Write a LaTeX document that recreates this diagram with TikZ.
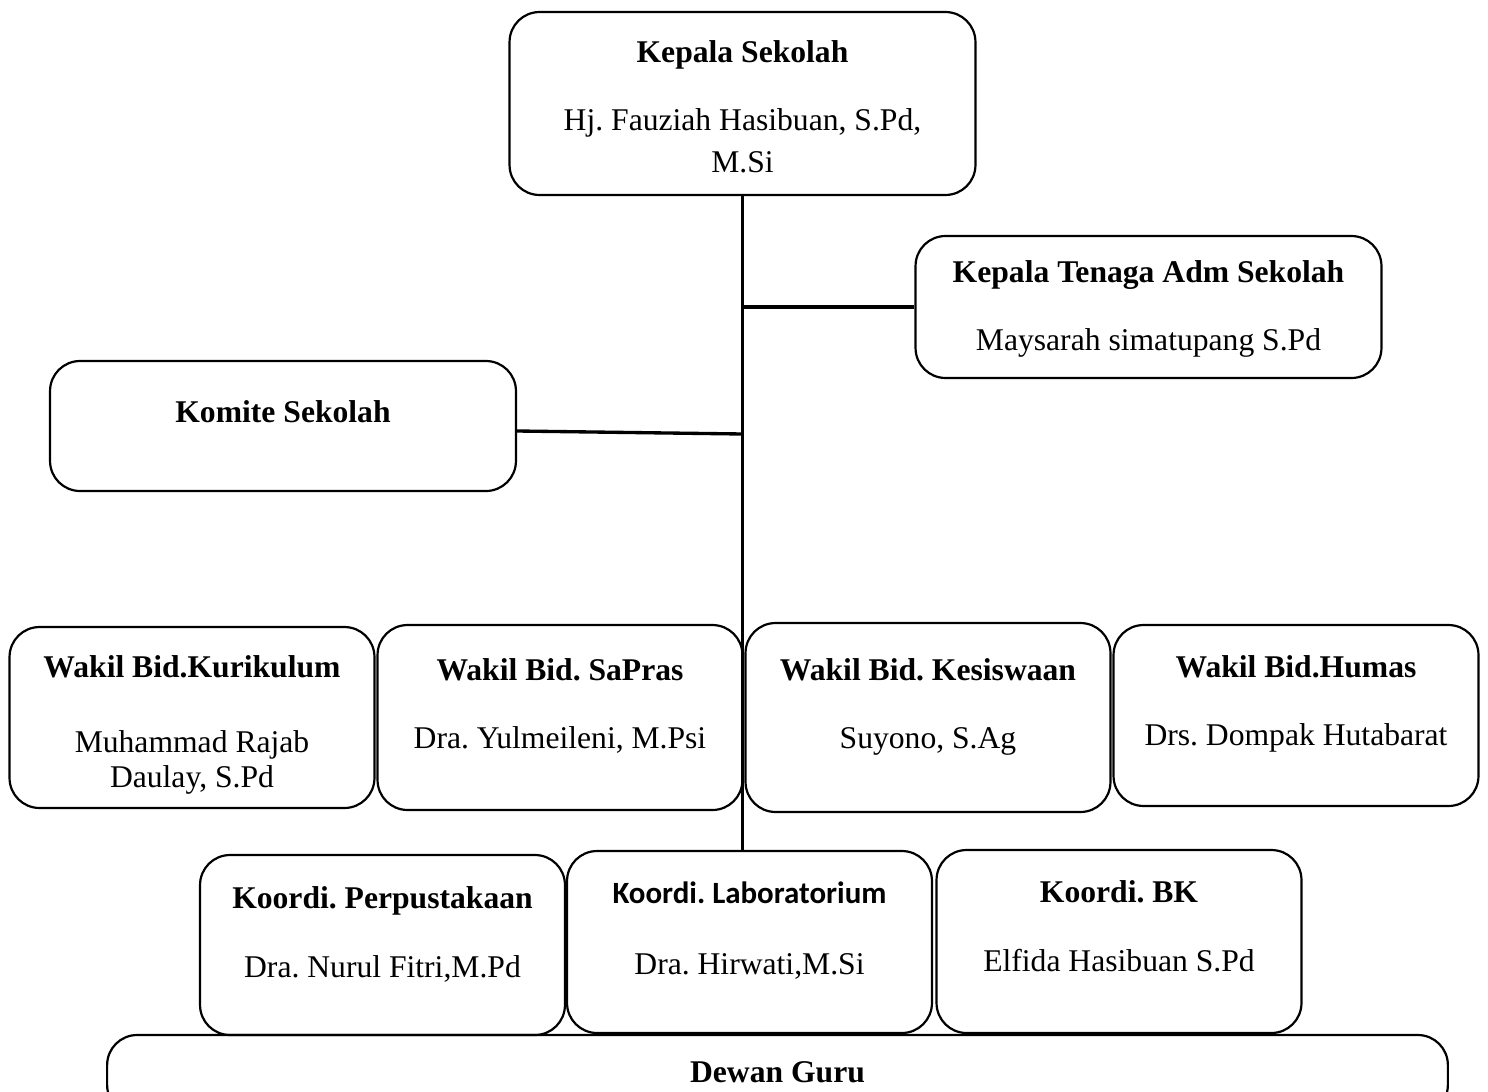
\documentclass[tikz,border=0pt]{standalone}
\usepackage{fontspec}
\setmainfont{Liberation Serif}
\newfontfamily\calibri{Carlito}
\frenchspacing
\usepackage{tikz}

\begin{document}
\begin{tikzpicture}[x=0.02cm,y=-0.02cm,
    box/.style={draw, line width=1.25pt, rounded corners=0.6cm, inner sep=0pt},
    wide/.style={minimum width=9.32cm},
    narrow/.style={minimum width=7.3cm},
    ttl/.style={anchor=base, inner sep=0pt, font=\fontsize{18}{21}\selectfont\bfseries},
    nm/.style={anchor=base, inner sep=0pt, font=\fontsize{18}{21}\selectfont},
    link/.style={line width=1.9pt}]
    \useasboundingbox (0,0) rectangle (1488,1092);
    \clip (0,0) rectangle (1488,1092);
    % pimpinan
    \node[box, wide, minimum height=3.66cm] (ks) at (742.5,103.5) {};
    \node[ttl] (ks-t) at (ks |- 0,62) {Kepala Sekolah};
    \node[nm] (ks-n1) at (ks |- 0,130) {Hj. Fauziah Hasibuan, S.Pd,};
    \node[nm] (ks-n2) at (ks |- 0,172) {M.Si};
    \node[box, wide, minimum height=2.84cm] (adm) at (1148.5,307) {};
    \node[ttl] (adm-t) at (adm |- 0,282) {Kepala Tenaga Adm Sekolah};
    \node[nm] (adm-n) at (adm |- 0,350) {Maysarah simatupang S.Pd};
    \node[box, wide, minimum height=2.6cm] (kom) at (283,426) {};
    \node[ttl] (kom-t) at (kom |- 0,422) {Komite Sekolah};
    % wakil
    \node[box, narrow, minimum height=3.62cm] (wkur) at (192,717.5) {};
    \node[ttl] (wkur-t) at (wkur |- 0,677) {Wakil Bid.Kurikulum};
    \node[nm] (wkur-n1) at (wkur |- 0,752) {Muhammad Rajab};
    \node[nm] (wkur-n2) at (wkur |- 0,787) {Daulay, S.Pd};
    \node[box, narrow, minimum height=3.7cm] (wsar) at (560,717.5) {};
    \node[ttl] (wsar-t) at (wsar |- 0,680) {Wakil Bid. SaPras};
    \node[nm] (wsar-n) at (wsar |- 0,748) {Dra. Yulmeileni, M.Psi};
    \node[box, narrow, minimum height=3.78cm] (wsis) at (928,717.5) {};
    \node[ttl] (wsis-t) at (wsis |- 0,680) {Wakil Bid. Kesiswaan};
    \node[nm] (wsis-n) at (wsis |- 0,748) {Suyono, S.Ag};
    \node[box, narrow, minimum height=3.62cm] (whum) at (1296,715.5) {};
    \node[ttl] (whum-t) at (whum |- 0,677) {Wakil Bid.Humas};
    \node[nm] (whum-n) at (whum |- 0,745) {Drs. Dompak Hutabarat};
    % koordinator
    \node[box, narrow, minimum height=3.6cm] (kpus) at (382.5,945) {};
    \node[ttl] (kpus-t) at (kpus |- 0,908) {Koordi. Perpustakaan};
    \node[nm] (kpus-n) at (kpus |- 0,977) {Dra. Nurul Fitri,M.Pd};
    \node[box, narrow, minimum height=3.64cm] (klab) at (749.5,942) {};
    \node[ttl, font=\calibri\fontsize{17.6}{21}\selectfont\bfseries] (klab-t) at (klab |- 0,903) {Koordi. Laboratorium};
    \node[nm] (klab-n) at (klab |- 0,974) {Dra. Hirwati,M.Si};
    \node[box, narrow, minimum height=3.66cm] (kbk) at (1119,941.5) {};
    \node[ttl] (kbk-t) at (kbk |- 0,902) {Koordi. BK};
    \node[nm] (kbk-n) at (kbk |- 0,971) {Elfida Hasibuan S.Pd};
    \node[box, minimum width=26.82cm, minimum height=1.6cm] (dg) at (777.5,1075) {};
    \node[ttl] (dg-t) at (dg |- 0,1082) {Dewan Guru};
    % garis
    \coordinate (kadm) at (ks.south |- adm.west);
    \coordinate (kkom) at (ks.south |- 0,434);
    \draw[link] (ks.south) -- (ks.south |- klab.north);
    \draw[link] (kadm) -- (adm.west);
    \draw[link] (kom.east |- 0,431) -- (kkom);
\end{tikzpicture}
\end{document}
